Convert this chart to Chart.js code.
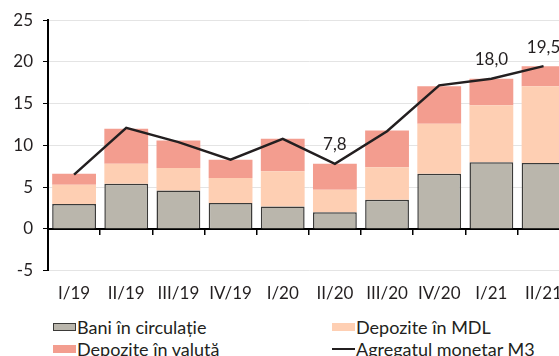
<!DOCTYPE html>
<html>
<head>
<meta charset="utf-8">
<script src="https://cdn.jsdelivr.net/npm/chart.js@4"></script>
<style>
    body { margin: 0; overflow: hidden; background: #fff; font-family: Lato, sans-serif; }
    #wrap { position: absolute; left: 0; top: 0; width: 575px; height: 310px; }
    #legend { position: absolute; left: 53px; top: 316px; width: 520px; display: grid;
        grid-template-columns: 279px 240px; row-gap: 1px; font-size: 18px; color: #231f20; }
    .item { display: flex; align-items: center; height: 21px; white-space: nowrap; }
    .swatch { width: 23px; height: 8px; margin-right: 1px; box-sizing: border-box; }
    .dash { width: 23px; height: 2px; margin-right: 1px; }
</style>
</head>
<body>
<div id="wrap"><canvas id="m3Chart" width="575" height="310"></canvas></div>
<div id="legend"></div>
<script>
const labels = ['I/19', 'II/19', 'III/19', 'IV/19', 'I/20', 'II/20', 'III/20', 'IV/20', 'I/21', 'II/21'];
const bani = [3.0, 5.4, 4.6, 3.1, 2.7, 2.0, 3.5, 6.6, 8.0, 7.9];
const depMDL = [2.3, 2.4, 2.7, 3.0, 4.2, 2.7, 3.9, 6.0, 6.8, 9.2];
const depValuta = [1.3, 4.2, 3.3, 2.2, 3.9, 3.1, 4.4, 4.5, 3.2, 2.4];
const m3 = [6.5, 12.1, 10.4, 8.3, 10.8, 7.8, 11.7, 17.2, 18.0, 19.5];
// only these points get a value label
const labeledPoints = [5, 8, 9];

const font = { family: 'Lato, sans-serif', size: 17 };

// writes "7,8" style values over the M3 line
const valueLabels = {
    id: 'valueLabels',
    afterDatasetsDraw(chart) {
        const ctx = chart.ctx;
        const meta = chart.getDatasetMeta(3);
        ctx.save();
        ctx.font = '17px Lato, sans-serif';
        ctx.fillStyle = '#231f20';
        ctx.textAlign = 'center';
        ctx.textBaseline = 'middle';
        labeledPoints.forEach(i => {
            const pt = meta.data[i];
            ctx.fillText(m3[i].toFixed(1).replace('.', ','), pt.x, pt.y - 19);
        });
        ctx.restore();
    }
};

let ctx = document.getElementById('m3Chart').getContext('2d');

let chart = new Chart(ctx, {
    type: 'bar',
    data: {
        labels: labels,
        datasets: [{
            label: 'Bani în circulație',
            data: bani,
            backgroundColor: '#bab6ac',
            borderColor: '#3b3a38',
            borderWidth: 1.5,
            order: 1
        }, {
            label: 'Depozite în MDL',
            data: depMDL,
            backgroundColor: '#fecfb3',
            borderWidth: 0,
            order: 1
        }, {
            label: 'Depozite în valută',
            data: depValuta,
            backgroundColor: '#f39d8f',
            borderWidth: 0,
            order: 1
        }, {
            type: 'line',
            label: 'Agregatul monetar M3',
            data: m3,
            borderColor: '#231f20',
            borderWidth: 2.5,
            pointRadius: 0,
            tension: 0,
            order: 0
        }]
    },
    options: {
        responsive: false,
        animation: false,
        layout: { padding: { top: 12, right: 0, bottom: 0, left: 0 } },
        datasets: {
            bar: { categoryPercentage: 1, barPercentage: 0.84 }
        },
        plugins: {
            legend: { display: false },
            tooltip: { enabled: false }
        },
        scales: {
            x: {
                stacked: true,
                position: 'bottom',
                afterFit: s => { s.height = 39.3; },
                grid: { display: false, drawTicks: false },
                border: { display: false },
                ticks: { color: '#231f20', font: font, padding: 13, maxRotation: 0, autoSkip: false }
            },
            // zero line with the category tick marks
            x0: {
                type: 'category',
                axis: 'x',
                position: { y: 0 },
                offset: true,
                grid: {
                    offset: true,
                    drawOnChartArea: false,
                    drawTicks: true,
                    tickLength: 5,
                    color: '#000',
                    lineWidth: 1.5
                },
                border: { color: '#000', width: 2 },
                ticks: { display: false }
            },
            y: {
                stacked: true,
                min: -5,
                max: 25,
                afterFit: s => { s.width = 48; },
                ticks: { stepSize: 5, color: '#231f20', font: font, padding: 10 },
                grid: {
                    color: c => c.tick && c.tick.value === 0 ? 'rgba(0,0,0,0)' : '#e4e4e4',
                    tickColor: '#000',
                    tickLength: 5,
                    lineWidth: 1
                },
                border: { color: '#000', width: 2 }
            }
        }
    },
    plugins: [valueLabels]
});

// two-column legend taken from the datasets
const legend = document.getElementById('legend');
chart.data.datasets.forEach(ds => {
    const item = document.createElement('div');
    item.className = 'item';
    const mark = document.createElement('span');
    if (ds.type === 'line') {
        mark.className = 'dash';
        mark.style.background = ds.borderColor;
    } else {
        mark.className = 'swatch';
        mark.style.background = ds.backgroundColor;
        if (ds.borderWidth) mark.style.border = '1.5px solid ' + ds.borderColor;
    }
    const txt = document.createElement('span');
    txt.textContent = ds.label;
    item.appendChild(mark);
    item.appendChild(txt);
    legend.appendChild(item);
});
</script>
</body>
</html>
